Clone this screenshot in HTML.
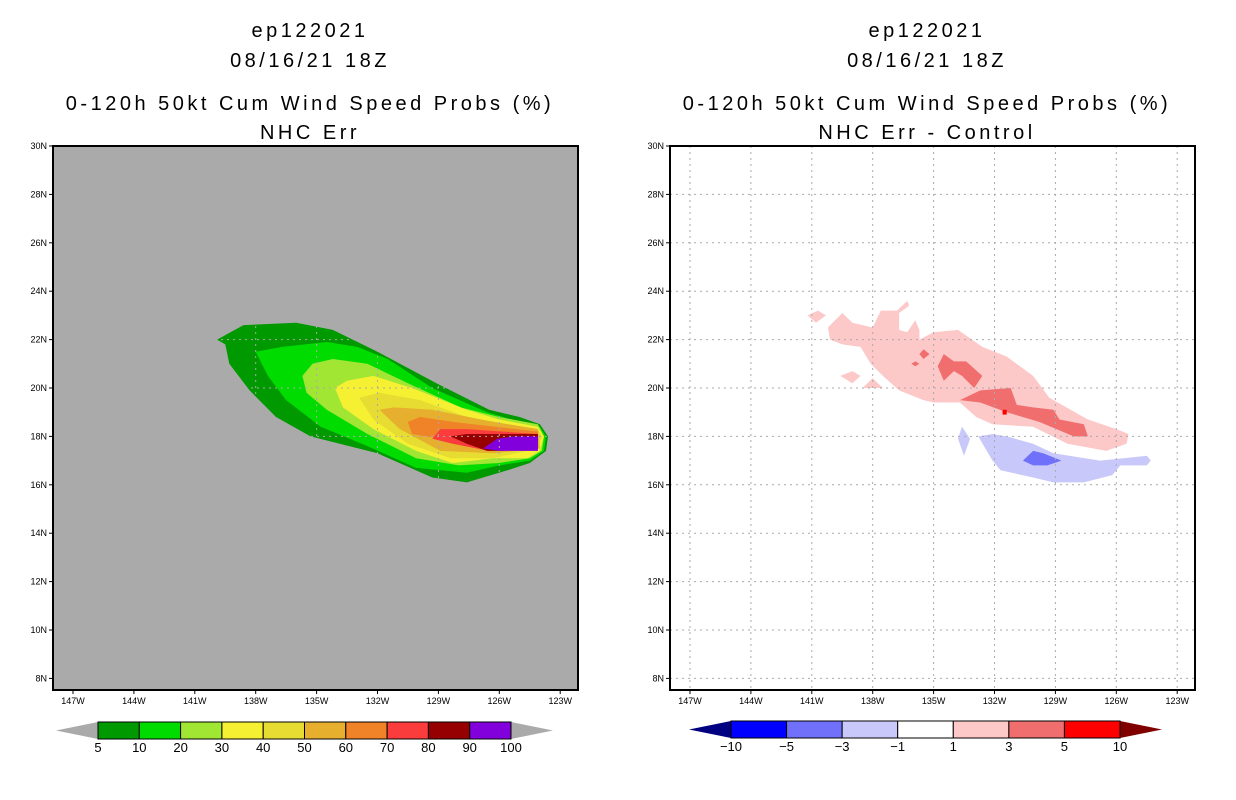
<!DOCTYPE html>
<html><head><meta charset="utf-8"><style>
body{margin:0;background:#fff;width:1236px;height:800px;overflow:hidden}
svg{display:block;font-family:"Liberation Sans",sans-serif}
.t{font-size:20px;letter-spacing:3.5px}
.tk{font-size:9px}
.cb{font-size:13px}
</style></head><body>
<svg id="s" width="1236" height="800" viewBox="0 0 1236 800" xmlns="http://www.w3.org/2000/svg">
<g class="t" text-anchor="middle">
<text x="310" y="37">ep122021</text><text x="310" y="67">08/16/21 18Z</text>
<text x="310" y="110">0-120h 50kt Cum Wind Speed Probs (%)</text><text x="310" y="139">NHC Err</text></g>
<g class="t" text-anchor="middle">
<text x="927" y="37">ep122021</text><text x="927" y="67">08/16/21 18Z</text>
<text x="927" y="110">0-120h 50kt Cum Wind Speed Probs (%)</text><text x="927" y="139">NHC Err - Control</text></g>
<g id="L"></g><g id="R"></g>
</svg>
<script>
const latTicks=[30,28,26,24,22,20,18,16,14,12,10,8];
const lonTicks=[147,144,141,138,135,132,129,126,123];
const probLevels=[5,10,20,30,40,50,60,70,80,90,100];
const probColors=["#009900","#00dc00","#a0e632","#f5f032","#e6dc32","#e6af2d","#f08228","#fa3c3c","#960000","#8200dc"];
const diffLevels=[-10,-5,-3,-1,1,3,5,10];
const diffColors=["#0000ff","#7070fa","#c8c8fa","#ffffff","#fcc8c8","#f06e6e","#ff0000"];
const p5=[[-139.9,22.0],[-138.6,22.6],[-136.0,22.7],[-134.2,22.4],[-132.0,21.5],[-129.1,20.2],[-126.5,19.1],[-125.0,18.8],[-124.0,18.5],[-123.6,18.0],[-123.7,17.4],[-124.5,16.9],[-125.6,16.6],[-127.6,16.1],[-129.3,16.3],[-132.0,17.3],[-135.3,18.0],[-137.0,18.8],[-138.3,19.9],[-139.3,21.0],[-139.5,21.8]];
const p10=[[-138.0,21.5],[-136.7,21.7],[-134.5,21.9],[-133.0,21.7],[-131.5,21.2],[-129.3,20.0],[-126.6,19.0],[-125.0,18.6],[-124.0,18.4],[-123.7,18.0],[-123.8,17.4],[-124.5,17.0],[-126.0,16.8],[-127.6,16.5],[-130.1,16.7],[-132.5,17.6],[-134.8,18.4],[-136.5,19.5],[-137.4,20.5]];
const p20=[[-135.7,20.5],[-135.2,21.0],[-134.2,21.2],[-132.5,21.0],[-130.5,20.2],[-127.9,19.2],[-126.0,18.8],[-124.1,18.5],[-123.8,18.0],[-123.9,17.4],[-124.5,17.1],[-126.0,16.9],[-128.0,16.8],[-130.1,17.1],[-132.5,18.1],[-134.5,19.1],[-135.5,19.8]];
const p30=[[-134.1,20.0],[-133.5,20.3],[-132.2,20.5],[-130.3,20.0],[-127.6,19.1],[-126.0,18.7],[-124.1,18.4],[-123.8,18.0],[-124.0,17.4],[-124.6,17.1],[-126.3,17.1],[-128.3,16.9],[-130.1,17.4],[-132.2,18.3],[-133.7,19.2]];
const p40=[[-132.9,19.6],[-131.9,19.8],[-129.9,19.5],[-127.6,18.8],[-124.1,18.3],[-123.9,18.0],[-124.1,17.5],[-126.3,17.1],[-128.4,17.1],[-130.5,17.7],[-132.2,18.7]];
const p50=[[-131.9,19.1],[-131.2,19.2],[-129.3,19.1],[-126.3,18.6],[-124.1,18.3],[-124.0,17.5],[-126.3,17.3],[-128.9,17.4],[-130.9,18.3]];
const p60=[[-130.5,18.6],[-129.9,18.8],[-128.3,18.6],[-124.1,18.2],[-124.1,17.6],[-126.5,17.4],[-128.9,17.9],[-130.3,18.1]];
const p70=[[-129.3,17.9],[-128.9,18.3],[-127.6,18.3],[-124.1,18.1],[-124.1,17.6],[-126.5,17.4],[-128.3,17.7]];
const p80=[[-128.4,18.0],[-127.6,18.1],[-124.1,18.1],[-124.1,17.5],[-126.0,17.4],[-126.6,17.4],[-127.6,17.7]];
const p90=[[-126.8,17.5],[-126.1,17.9],[-125.3,18.0],[-124.1,18.0],[-124.1,17.4],[-126.0,17.4]];
const d1a=[[-140.2,22.5],[-139.5,23.1],[-139.0,22.7],[-138.0,22.5],[-137.6,23.2],[-136.8,23.2],[-136.3,23.6],[-136.2,23.4],[-136.7,23.1],[-136.7,22.4],[-136.3,22.3],[-135.9,22.8],[-135.7,22.4],[-135.7,22.0],[-135.0,22.3],[-133.8,22.4],[-132.6,21.7],[-131.4,21.3],[-130.1,20.5],[-129.3,19.6],[-127.4,18.7],[-126.0,18.3],[-125.4,18.1],[-125.5,17.7],[-126.5,17.4],[-128.4,17.7],[-130.1,18.4],[-132.1,18.5],[-132.9,18.8],[-133.7,19.4],[-135.0,19.4],[-135.5,19.5],[-136.7,19.9],[-137.5,20.5],[-138.1,21.0],[-138.6,21.7],[-139.5,21.8],[-140.1,22.0]];
const d1b=[[-141.2,23.0],[-140.7,23.2],[-140.3,23.0],[-140.8,22.7]];
const d1c=[[-139.6,20.5],[-139.0,20.7],[-138.6,20.5],[-139.0,20.2]];
const d1d=[[-138.5,20.0],[-138.0,20.4],[-137.5,20.0]];
const d3a=[[-134.8,20.9],[-134.5,21.4],[-134.0,21.1],[-133.4,21.1],[-132.6,20.5],[-133.0,20.0],[-133.6,20.5],[-134.0,20.7],[-134.5,20.3]];
const d3b=[[-133.7,19.5],[-132.7,19.9],[-131.2,20.0],[-130.9,19.3],[-130.1,19.2],[-129.1,19.1],[-128.8,18.7],[-127.6,18.5],[-127.4,18.0],[-128.1,18.0],[-129.8,18.6],[-131.4,19.0],[-132.7,19.4]];
const d3c=[[-135.7,21.4],[-135.5,21.6],[-135.2,21.4],[-135.5,21.2]];
const d3d=[[-136.1,21.0],[-135.9,21.1],[-135.7,21.0],[-135.9,20.9]];
const d5a=[[-131.6,19.1],[-131.4,19.1],[-131.4,18.9],[-131.6,18.9]];
const n1a=[[-132.8,18.0],[-132.1,18.1],[-131.4,18.0],[-130.1,17.7],[-129.1,17.3],[-126.8,17.0],[-124.5,17.2],[-124.3,17.0],[-124.5,16.8],[-125.8,16.8],[-126.2,16.4],[-127.6,16.1],[-129.1,16.1],[-130.1,16.3],[-131.7,16.6],[-132.1,17.0]];
const n1b=[[-133.6,18.4],[-133.2,17.9],[-133.5,17.2],[-133.8,17.9]];
const n3a=[[-130.6,17.0],[-130.1,17.4],[-129.6,17.3],[-128.7,17.0],[-129.4,16.8],[-130.1,16.8]];

const NS="http://www.w3.org/2000/svg";
function mk(p,tag,a){const e=document.createElementNS(NS,tag);for(const k in a)e.setAttribute(k,a[k]);p.appendChild(e);return e;}
function panel(g,ox,bg,shapes,name){
  const X0=ox+53,X1=ox+578,Y0=146,Y1=690;
  const xs=lon=>ox+73+(lon+147)*20.3, ys=lat=>146+(30-lat)*24.2;
  const fr=mk(g,'rect',{x:X0,y:Y0,width:X1-X0,height:Y1-Y0,fill:bg});
  
  
  shapes.forEach(s=>{
    const pg=mk(g,'polygon',{points:s.pts.map(q=>xs(q[0]).toFixed(1)+','+ys(q[1]).toFixed(1)).join(' '),fill:s.c});
    
    
  });
  lonTicks.forEach(l=>{const x=xs(-l);
    const gl=mk(g,'line',{x1:x,x2:x,y1:Y0,y2:Y1,stroke:'#aaa','stroke-dasharray':'2,4','stroke-width':1});
    
    
    mk(g,'line',{x1:x,x2:x,y1:Y1,y2:Y1+4,stroke:'#000'});
    const t=mk(g,'text',{x:x,y:Y1+14,'text-anchor':'middle',class:'tk'});t.textContent=l+'W';
    
    });
  latTicks.forEach(l=>{const y=ys(l);
    if(l<30){const gl=mk(g,'line',{x1:X0,x2:X1,y1:y,y2:y,stroke:'#aaa','stroke-dasharray':'2,4','stroke-width':1});
    
    }
    mk(g,'line',{x1:X0-4,x2:X0,y1:y,y2:y,stroke:'#000'});
    const t=mk(g,'text',{x:X0-6,y:y+3,'text-anchor':'end',class:'tk'});t.textContent=l+'N';
    
    });
  mk(g,'rect',{x:X0,y:Y0,width:X1-X0,height:Y1-Y0,fill:'none',stroke:'#000','stroke-width':2});
}
function cbar(g,x0,x1,y,cols,labels,lc,rc,name){
  const n=cols.length,w=(x1-x0)/n,h=17;
  const tl=mk(g,'polygon',{points:`${x0-42},${y+h/2} ${x0},${y} ${x0},${y+h}`,fill:lc});
  
  const tr=mk(g,'polygon',{points:`${x1+42},${y+h/2} ${x1},${y} ${x1},${y+h}`,fill:rc});
  
  cols.forEach((c,i)=>{const r=mk(g,'rect',{x:x0+i*w,y:y,width:w,height:h,fill:c,stroke:'#000','stroke-width':1});
    });
  labels.forEach((l,i)=>{const t=mk(g,'text',{x:x0+i*w,y:y+h+13,'text-anchor':'middle',class:'cb'});t.textContent=String(l).replace('-','\u2212');
    });
}
const L=document.getElementById('L'),R=document.getElementById('R');
const lp=[p5,p10,p20,p30,p40,p50,p60,p70,p80,p90];
panel(L,0,'#aaaaaa',lp.map((p,i)=>({pts:p,c:probColors[i],n:'prob-contour-'+probLevels[i]})),'left');
panel(R,617,'#ffffff',[
 {pts:d1a,c:diffColors[4],n:'diff-pos-1'},{pts:d1b,c:diffColors[4],n:'diff-pos-1'},{pts:d1c,c:diffColors[4],n:'diff-pos-1'},{pts:d1d,c:diffColors[4],n:'diff-pos-1'},
 {pts:d3a,c:diffColors[5],n:'diff-pos-3'},{pts:d3b,c:diffColors[5],n:'diff-pos-3'},{pts:d3c,c:diffColors[5],n:'diff-pos-3'},{pts:d3d,c:diffColors[5],n:'diff-pos-3'},
 {pts:d5a,c:diffColors[6],n:'diff-pos-5'},
 {pts:n1a,c:diffColors[2],n:'diff-neg-1'},{pts:n1b,c:diffColors[2],n:'diff-neg-1'},
 {pts:n3a,c:diffColors[1],n:'diff-neg-3'}],'right');
cbar(L,98,511,722,probColors,probLevels,'#aaaaaa','#aaaaaa','prob-colorbar');
cbar(R,731,1120,721,diffColors,diffLevels,'#000080','#800000','diff-colorbar');
</script>
</body></html>
